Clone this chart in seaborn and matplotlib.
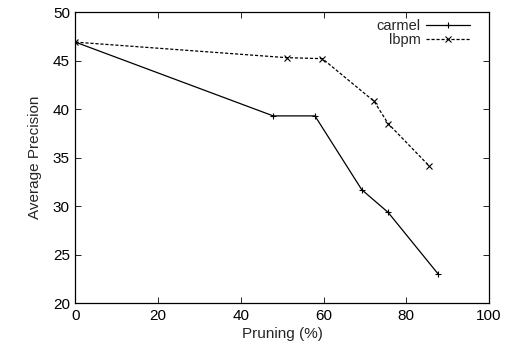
import pandas as pd
import matplotlib
matplotlib.use("Agg")
import matplotlib.pyplot as plt
import seaborn as sns

# data
carmel_x = [0, 47.8, 57.9, 69.2, 75.6, 87.6]
carmel_y = [46.9, 39.3, 39.3, 31.7, 29.35, 23.05]
lbpm_x = [0, 51.1, 59.7, 72.2, 75.6, 85.5]
lbpm_y = [46.9, 45.3, 45.2, 40.8, 38.5, 34.15]

sns.set_style("ticks")
plt.rcParams['font.family'] = ['Liberation Sans', 'DejaVu Sans']
plt.rcParams['font.size'] = 11

fig = plt.figure(figsize=(5.1, 3.55), dpi=100)
ax = fig.add_axes([0.148, 0.146, 0.811, 0.82])

sns.lineplot(x=carmel_x, y=carmel_y, ax=ax, color="black", lw=0.9,
             marker="+", markersize=5, markeredgewidth=0.8,
             markeredgecolor="black", label="carmel")
sns.lineplot(x=lbpm_x, y=lbpm_y, ax=ax, color="black", lw=0.9,
             linestyle=(0, (2.5, 1.5)), marker="x", markersize=4,
             markeredgewidth=0.8, markeredgecolor="black", label="lbpm")

ax.set_xlim(0, 100)
ax.set_ylim(20, 50)
ax.set_xticks(range(0, 101, 20))
ax.set_yticks(range(20, 51, 5))
ax.tick_params(direction="in", top=True, right=True, length=4, width=0.6,
               labelsize=11, colors="black", pad=4)
for s in ax.spines.values():
    s.set_linewidth(0.9)
    s.set_color("black")
ax.set_xlabel("Pruning (%)", fontsize=11, labelpad=3)
ax.set_ylabel("Average Precision", fontsize=11, labelpad=8)

ax.legend(loc="upper right", bbox_to_anchor=(0.954, 0.977), frameon=False,
          markerfirst=False, fontsize=10.5, numpoints=1, handlelength=3.0,
          handletextpad=0.4, labelspacing=0, borderaxespad=0,
          borderpad=0)

fig.savefig("out.png", dpi=100)
